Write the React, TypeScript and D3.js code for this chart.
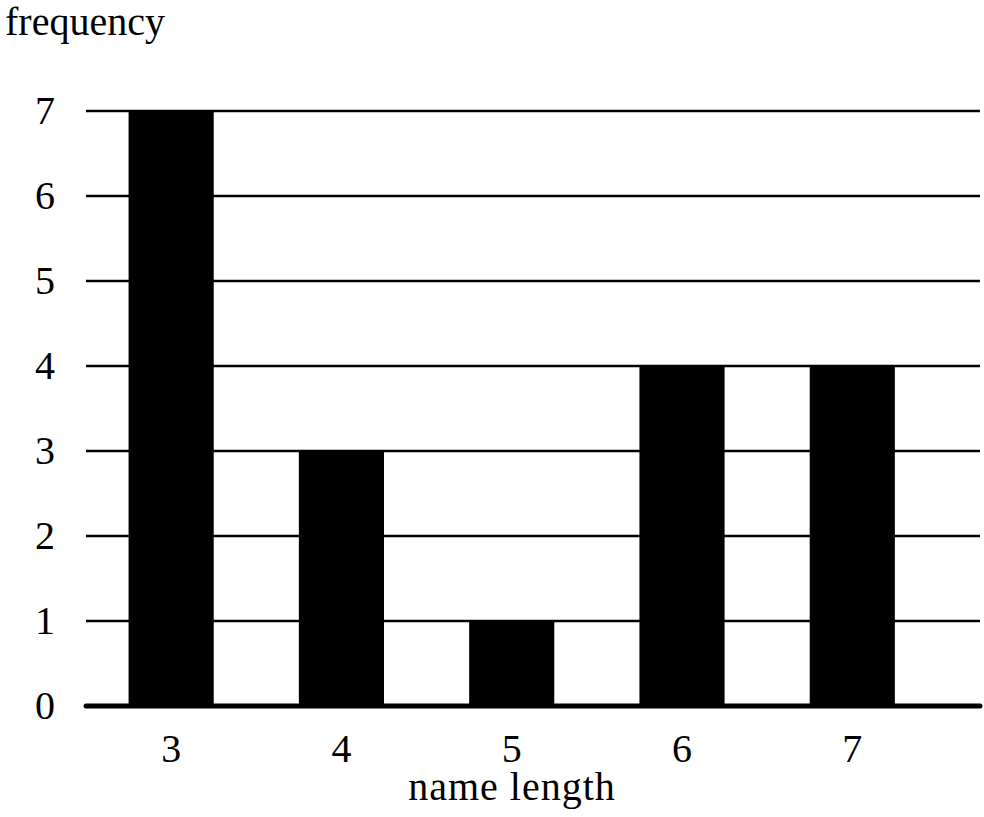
import React from "react";
import * as d3 from "d3";

const nameLengths = [3, 4, 5, 6, 7];
const frequencies = [7, 3, 1, 4, 4];
const yTicks = [0, 1, 2, 3, 4, 5, 6, 7];

const W = 984;
const H = 817;
const FONT = "'Liberation Serif', 'DejaVu Serif', serif";
const FS = 40;

const App = () => {
  const x = d3.scaleLinear().domain([2.5, 7.75]).range([86, 980]);
  const y = d3.scaleLinear().domain([0, 7]).range([706, 111]);
  const barW = x(3.5) - x(3);

  return (
    <svg
      width={W}
      height={H}
      style={{ position: "absolute", left: 0, top: 0, background: "#fff" }}
      fontFamily={FONT}
    >
      {/* grid lines */}
      {yTicks
        .filter((t) => t > 0)
        .map((t) => (
          <line
            key={t}
            x1={x(2.5)}
            x2={x(7.75)}
            y1={y(t)}
            y2={y(t)}
            stroke="#000"
            strokeWidth={2.4}
          />
        ))}

      {/* bars */}
      {nameLengths.map((n, i) => (
        <rect
          key={n}
          x={x(n) - barW / 2}
          y={y(frequencies[i])}
          width={barW}
          height={y(0) - y(frequencies[i])}
          fill="#000"
        />
      ))}

      {/* baseline */}
      <line
        x1={x(2.5)}
        x2={x(7.75)}
        y1={y(0)}
        y2={y(0)}
        stroke="#000"
        strokeWidth={5}
        strokeLinecap="round"
      />

      {/* y tick labels */}
      {yTicks.map((t) => (
        <text key={t} x={45} y={y(t) + 13} textAnchor="middle" fontSize={FS}>
          {t}
        </text>
      ))}

      {/* x tick labels */}
      {nameLengths.map((n) => (
        <text key={n} x={x(n)} y={762} textAnchor="middle" fontSize={FS}>
          {n}
        </text>
      ))}

      <text x={512} y={800} textAnchor="middle" fontSize={FS} letterSpacing={1}>
        name length
      </text>
      <text x={5} y={35} fontSize={FS}>
        frequency
      </text>
    </svg>
  );
};

export default App;
